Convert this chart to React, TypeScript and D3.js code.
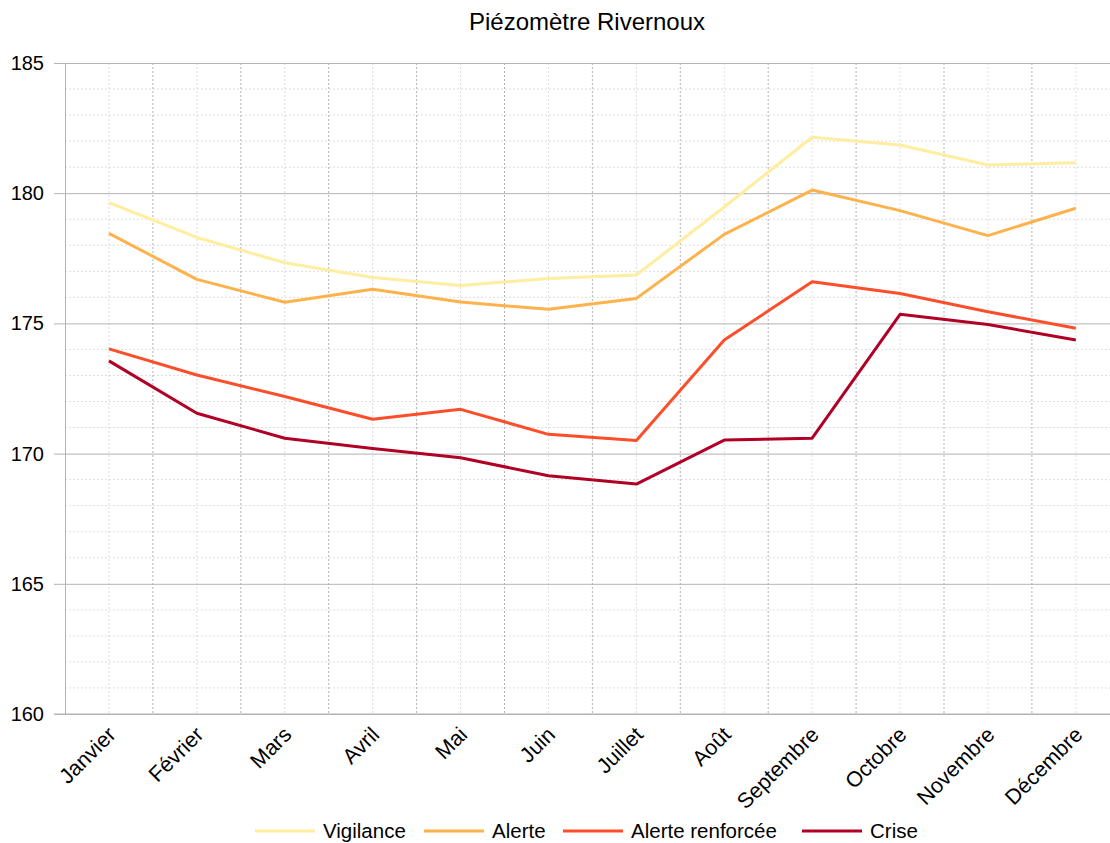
import React, { useRef, useEffect } from 'react'
import * as d3 from 'd3'

const months = ['Janvier', 'Février', 'Mars', 'Avril', 'Mai', 'Juin', 'Juillet', 'Août', 'Septembre', 'Octobre', 'Novembre', 'Décembre']

const vigilance = [179.64, 178.3, 177.33, 176.76, 176.46, 176.72, 176.86, 179.47, 182.15, 181.85, 181.08, 181.17]
const alerte = [178.46, 176.69, 175.81, 176.31, 175.82, 175.54, 175.96, 178.42, 180.12, 179.33, 178.37, 179.42]
const alerteRenforcee = [174.02, 173.02, 172.19, 171.32, 171.7, 170.74, 170.5, 174.36, 176.6, 176.15, 175.45, 174.81]
const crise = [173.56, 171.55, 170.59, 170.2, 169.84, 169.15, 168.83, 170.52, 170.59, 175.35, 174.96, 174.36]

const seriesNames = ['Vigilance', 'Alerte', 'Alerte renforcée', 'Crise']
const seriesColors = ['#ffeda0', '#feb24c', '#fc4e2a', '#b10026']
const yTicks = [160, 165, 170, 175, 180, 185]

const W = 1110
const H = 843
const FONT = '"Liberation Sans", Arial, sans-serif'

export default function App() {
    const ref = useRef<SVGSVGElement>(null)

    useEffect(() => {
        const svg = d3.select(ref.current)
        svg.selectAll('*').remove()

        const left = 65
        const top = 63
        const bottom = 714
        const bandW = 87.9

        const x = d3.scaleBand().domain(months).range([left, left + bandW * 12])
        const y = d3.scaleLinear().domain([160, 185]).range([bottom, top])
        const cx = (m: string) => (x(m) as number) + x.bandwidth() / 2

        // minor horizontal grid
        const minor = d3.range(160, 185, 1).filter((v) => v % 5 !== 0)
        svg.append('g')
            .selectAll('line')
            .data(minor)
            .join('line')
            .attr('x1', left)
            .attr('x2', W)
            .attr('y1', (d) => y(d))
            .attr('y2', (d) => y(d))
            .attr('stroke', '#dddddd')
            .attr('stroke-dasharray', '2,2')

        // vertical grid: category centres (light) and boundaries (darker)
        svg.append('g')
            .selectAll('line')
            .data(months)
            .join('line')
            .attr('x1', (d) => cx(d))
            .attr('x2', (d) => cx(d))
            .attr('y1', top)
            .attr('y2', bottom)
            .attr('stroke', '#dddddd')
            .attr('stroke-dasharray', '2,2')

        svg.append('g')
            .selectAll('line')
            .data(months.slice(1))
            .join('line')
            .attr('x1', (d) => x(d) as number)
            .attr('x2', (d) => x(d) as number)
            .attr('y1', top)
            .attr('y2', bottom)
            .attr('stroke', '#b3b3b3')
            .attr('stroke-dasharray', '2,2')

        // major horizontal grid + y axis
        const yAxis = svg.append('g')
            .attr('transform', `translate(${left},0)`)
            .call(d3.axisLeft(y).tickValues(yTicks).tickSize(11).tickSizeOuter(0).tickPadding(10))
        yAxis.select('.domain').attr('stroke', '#b3b3b3')
        yAxis.selectAll('.tick line').attr('stroke', '#b3b3b3')
        yAxis.selectAll('.tick')
            .append('line')
            .attr('x1', 0)
            .attr('x2', W - left)
            .attr('stroke', '#b3b3b3')
        yAxis.selectAll('text')
            .attr('font-family', FONT)
            .attr('font-size', 20)
            .attr('fill', '#000')

        // x axis labels
        const xAxis = svg.append('g')
            .attr('transform', `translate(0,${bottom})`)
            .call(d3.axisBottom(x).tickSize(0).tickSizeOuter(0))
        xAxis.select('.domain').remove()
        xAxis.selectAll('text')
            .attr('font-family', FONT)
            .attr('font-size', 21.5)
            .attr('fill', '#000')
            .attr('text-anchor', 'end')
            .attr('dy', null)
            .attr('y', 0)
            .attr('transform', 'translate(8,22) rotate(-45)')
        svg.append('line')
            .attr('x1', left - 11)
            .attr('x2', W)
            .attr('y1', bottom)
            .attr('y2', bottom)
            .attr('stroke', '#b3b3b3')

        // lines
        const allSeries = [vigilance, alerte, alerteRenforcee, crise]
        const line = d3.line<number>()
            .x((d, i) => cx(months[i]))
            .y((d) => y(d))
        svg.append('g')
            .selectAll('path')
            .data(allSeries)
            .join('path')
            .attr('d', (d) => line(d))
            .attr('fill', 'none')
            .attr('stroke', (d, i) => seriesColors[i])
            .attr('stroke-width', 3)
            .attr('stroke-linejoin', 'round')

        // title
        svg.append('text')
            .attr('x', 587)
            .attr('y', 30)
            .attr('text-anchor', 'middle')
            .attr('font-family', FONT)
            .attr('font-size', 24)
            .text('Piézomètre Rivernoux')

        // legend
        const legendX = [255, 424, 563, 802]
        const lg = svg.append('g')
            .selectAll('g')
            .data(seriesNames)
            .join('g')
            .attr('transform', (d, i) => `translate(${legendX[i]},831)`)
        lg.append('line')
            .attr('x1', 0)
            .attr('x2', 60)
            .attr('stroke', (d, i) => seriesColors[i])
            .attr('stroke-width', 3)
        lg.append('text')
            .attr('x', 68)
            .attr('y', 7)
            .attr('font-family', FONT)
            .attr('font-size', 20.5)
            .text((d) => d)
    }, [])

    return (
        <svg
            ref={ref}
            width={W}
            height={H}
            style={{ position: 'absolute', left: 0, top: 0, background: '#fff' }}
        ></svg>
    )
}
